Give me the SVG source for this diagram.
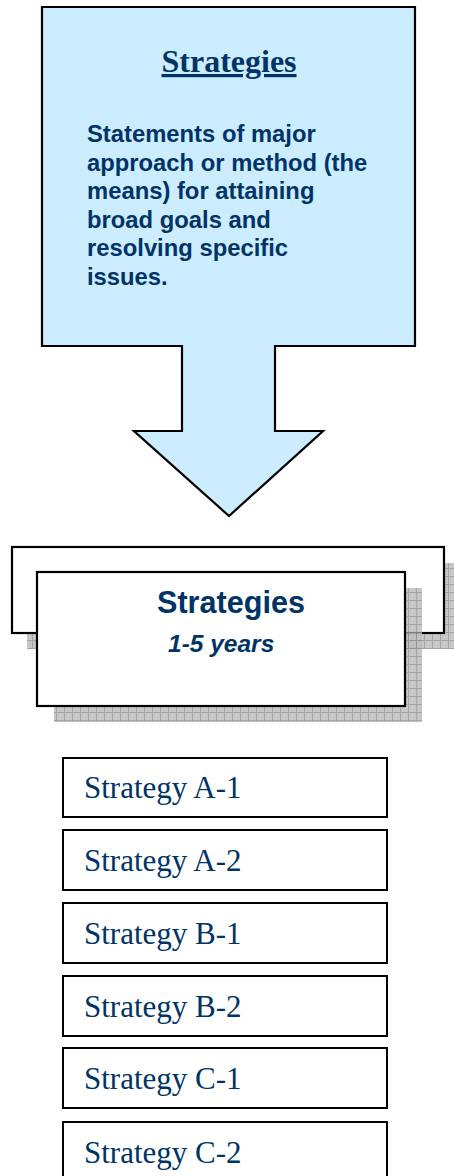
<svg xmlns="http://www.w3.org/2000/svg" width="454" height="1176" viewBox="0 0 454 1176">
<style>
.title{font-family:"Liberation Serif",serif;font-weight:bold;font-size:32px;fill:#003366;text-decoration:underline}
.body{font-family:"Liberation Sans",Arial,sans-serif;font-weight:bold;font-size:23.8px;fill:#003366}
.head{font-family:"Liberation Sans",Arial,sans-serif;font-weight:bold;font-size:30.6px;fill:#003366}
.sub{font-family:"Liberation Sans",Arial,sans-serif;font-weight:bold;font-style:italic;font-size:24.5px;fill:#003366}
.item rect{fill:#ffffff;stroke:#000000;stroke-width:2}
.item text{font-family:"Liberation Serif",serif;font-size:31px;fill:#003366}
.box{fill:#ffffff;stroke:#000000;stroke-width:2.2}
.shadow{fill:url(#grid);opacity:0.85}
</style>
<defs>
<pattern id="grid" width="8" height="8" patternUnits="userSpaceOnUse">
<rect width="8" height="8" fill="#bdbdbd"/>
<path d="M0,0.5H8M0.5,0V8" stroke="#939393" stroke-width="1"/>
</pattern>
</defs>
<g id="callout">
<path d="M42,7H415V346H275V431H323L229,516L134,431H182V346H42Z" fill="#CCECFF" stroke="#000000" stroke-width="2.2"/>
<text class="title" x="229" y="72" text-anchor="middle">Strategies</text>
<text class="body" x="87" y="142">Statements of major</text>
<text class="body" x="87" y="170.6">approach or method (the</text>
<text class="body" x="87" y="199.2">means) for attaining</text>
<text class="body" x="87" y="227.8">broad goals and</text>
<text class="body" x="87" y="256.4">resolving specific</text>
<text class="body" x="87" y="285">issues.</text>
</g>
<g id="header">
<rect class="shadow" x="27" y="563" width="432" height="86"/>
<rect class="box" x="12" y="547" width="432" height="86"/>
<rect class="shadow" x="54" y="588" width="368" height="134"/>
<rect class="box" x="37" y="572" width="368" height="134"/>
<text class="head" x="157" y="613">Strategies</text>
<text class="sub" x="168" y="652">1-5 years</text>
</g>
<g id="connectors"></g>
<g id="strategy-a1" class="item"><rect x="63" y="758" width="324" height="59"/><text x="84" y="798">Strategy A-1</text></g>
<g id="strategy-a2" class="item"><rect x="63" y="830" width="324" height="60"/><text x="84" y="871">Strategy A-2</text></g>
<g id="strategy-b1" class="item"><rect x="63" y="903" width="324" height="60"/><text x="84" y="944">Strategy B-1</text></g>
<g id="strategy-b2" class="item"><rect x="63" y="976" width="324" height="60"/><text x="84" y="1017">Strategy B-2</text></g>
<g id="strategy-c1" class="item"><rect x="63" y="1048" width="324" height="60"/><text x="84" y="1089">Strategy C-1</text></g>
<g id="strategy-c2" class="item"><rect x="63" y="1122" width="324" height="60"/><text x="84" y="1163">Strategy C-2</text></g>
</svg>
